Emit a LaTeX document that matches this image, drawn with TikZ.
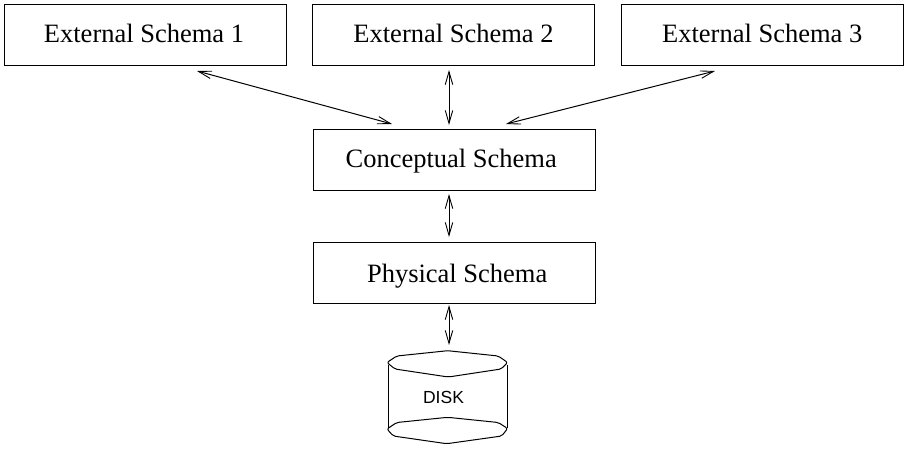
\documentclass[tikz,border=0pt]{standalone}
\usepackage{fontspec}
\setmainfont{Liberation Serif}
\newfontfamily\disksans{Liberation Sans}
\usetikzlibrary{arrows.meta}
\tikzset{
  schemabox/.style={draw=black,line width=1.1pt,minimum width=282pt,minimum height=60.5pt,inner sep=0pt,
    font=\fontsize{26.5}{30}\selectfont,text height=21pt,text depth=5pt},
  link/.style={line width=1pt,{Straight Barb[length=13pt,width=7.5pt,line width=0.9pt]}-{Straight Barb[length=13pt,width=7.5pt,line width=0.9pt]}},
  diskline/.style={line width=1pt,line join=round,rounded corners=2pt}
}
\begin{document}
\begin{tikzpicture}[x=1pt,y=-1pt]
\useasboundingbox (0,0) rectangle (909,448);
\node[schemabox] (e1) at (145.5,34.8) {External Schema 1\hspace*{3pt}};
\node[schemabox] (e2) at (453.5,34.8) {External Schema 2};
\node[schemabox] (e3) at (762.2,34.8) {External Schema 3};
\node[schemabox] (c) at (454.2,159.8) {Conceptual Schema\hspace*{6pt}};
\node[schemabox,text height=23pt,text depth=4pt] (p) at (454.2,272.8) {\hspace*{6pt}Physical Schema};
\coordinate (a1) at (197,71);
\coordinate (b1) at (392,124);
\coordinate (a2) at (449,70);
\coordinate (b2) at (449,125);
\coordinate (a3) at (715,71);
\coordinate (b3) at (506,124);
\coordinate (a4) at (449,194);
\coordinate (b4) at (449,237);
\coordinate (a5) at (449,305);
\coordinate (b5) at (449,345);
\draw[link] (a1) -- (b1);
\draw[link] (a2) -- (b2);
\draw[link] (a3) -- (b3);
\draw[link] (a4) -- (b4);
\draw[link] (a5) -- (b5);
\draw[diskline] (387,362.5) -- (396.7,356) -- (447.7,350.7) -- (498.3,356) -- (507.6,362.5) -- (501,369) -- (448.3,377) -- (395,369) -- cycle;
\draw[diskline] (387,429) -- (396.7,422.5) -- (447.7,417.3) -- (498.3,422.5) -- (507.6,428.5) -- (501.7,436) -- (446.7,443.7) -- (393.3,436) -- cycle;
\draw[line width=1pt] (388.3,365) -- (388.3,428);
\draw[line width=1pt] (507.3,365) -- (507.3,428);
\node[font=\disksans\fontsize{17.5}{20}\selectfont,inner sep=0pt] (d) at (443.5,397) {DISK};
\end{tikzpicture}
\end{document}
